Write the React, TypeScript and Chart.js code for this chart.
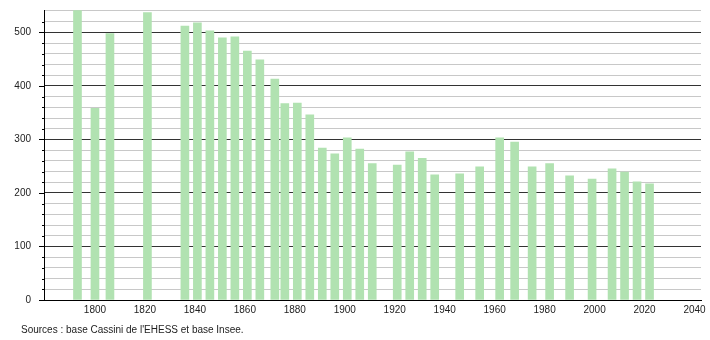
import React, { useEffect, useRef } from "react";
import { Chart, registerables } from "chart.js";

Chart.register(...registerables);

const years = [1793, 1800, 1806, 1821, 1836, 1841, 1846, 1851, 1856, 1861, 1866, 1872, 1876, 1881, 1886, 1891, 1896, 1901, 1906, 1911, 1921, 1926, 1931, 1936, 1946, 1954, 1962, 1968, 1975, 1982, 1990, 1999, 2007, 2012, 2017, 2022];
const population = [541, 358, 498, 537, 512, 518, 503, 490, 492, 465, 449, 413, 367, 368, 346, 284, 273, 303, 282, 255, 252, 277, 265, 234, 236, 249, 303, 295, 249, 255, 232, 226, 245, 239, 221, 217];
const xTickLabels = [1800, 1820, 1840, 1860, 1880, 1900, 1920, 1940, 1960, 1980, 2000, 2020, 2040];
const yTickLabels = [0, 100, 200, 300, 400, 500];
const yMinorStep = 20;
const sourceText = "Sources : base Cassini de l'EHESS et base Insee.";

const FONT = "'Liberation Sans', Arial, sans-serif";

const tickMarks = {
  id: "tickMarks",
  afterDraw(chart: any) {
    const y = chart.scales.y;
    const ctx = chart.ctx;
    const left = chart.chartArea.left;
    ctx.save();
    ctx.strokeStyle = "#000";
    ctx.lineWidth = 1;
    y.ticks.forEach((t: any) => {
      if (t.value > 540) return;
      const py = Math.round(y.getPixelForValue(t.value)) + 0.5;
      const len = t.value % 100 === 0 ? 5 : 2;
      ctx.beginPath();
      ctx.moveTo(left - len, py);
      ctx.lineTo(left, py);
      ctx.stroke();
    });
    ctx.restore();
  },
};

export default function App() {
  const ref = useRef<HTMLCanvasElement>(null);
  useEffect(() => {
    if (!ref.current) return;
    const chart = new Chart(ref.current, {
      type: "bar",
      data: {
        datasets: [
          {
            data: years.map((yr, i) => ({ x: yr, y: population[i] })),
            backgroundColor: "#b1e2b1",
            borderWidth: 0,
            barThickness: 8,
          },
        ],
      },
      options: {
        responsive: false,
        animation: false,
        devicePixelRatio: 1,
        layout: { padding: { top: 10, right: 9, left: 0, bottom: 0 } },
        plugins: { legend: { display: false }, tooltip: { enabled: false } },
        scales: {
          x: {
            type: "linear",
            offset: false,
            min: 1779.6,
            max: 2042.6,
            grid: { display: false, drawTicks: false, offset: false },
            border: { display: true, color: "#000", width: 1 },
            afterBuildTicks: (scale: any) => {
              scale.ticks = xTickLabels.map((v) => ({ value: v }));
            },
            afterFit: (scale: any) => {
              scale.height = 40;
              scale.paddingLeft = 0;
              scale.paddingRight = 0;
            },
            ticks: {
              padding: 4,
              color: "#222",
              font: { family: FONT, size: 10 },
              maxRotation: 0,
              autoSkip: false,
              callback: (v: any) => String(v),
            },
          },
          y: {
            min: 0,
            max: 542,
            grid: {
              drawTicks: false,
              color: (c: any) => (c.tick && c.tick.value % 100 === 0 ? "#333" : "#c8c8c8"),
              lineWidth: 1,
            },
            border: { display: true, color: "#000", width: 1 },
            afterFit: (scale: any) => {
              scale.width = 44;
              scale.paddingTop = 0;
              scale.paddingBottom = 0;
            },
            ticks: {
              stepSize: yMinorStep,
              padding: 13,
              color: "#222",
              font: { family: FONT, size: 10 },
              autoSkip: false,
              callback: (v: any) => (yTickLabels.includes(v) ? String(v) : ""),
            },
          },
        },
      },
      plugins: [tickMarks],
    });
    return () => chart.destroy();
  }, []);
  return (
    <div style={{ position: "absolute", left: 0, top: 0, width: 710, height: 340, background: "#fff" }}>
      <canvas ref={ref} width={710} height={340} />
      <div
        style={{
          position: "absolute",
          left: 21,
          top: 324,
          fontFamily: FONT,
          fontSize: 10,
          lineHeight: "12px",
          color: "#222",
          whiteSpace: "nowrap",
        }}
      >
        {sourceText}
      </div>
    </div>
  );
}
